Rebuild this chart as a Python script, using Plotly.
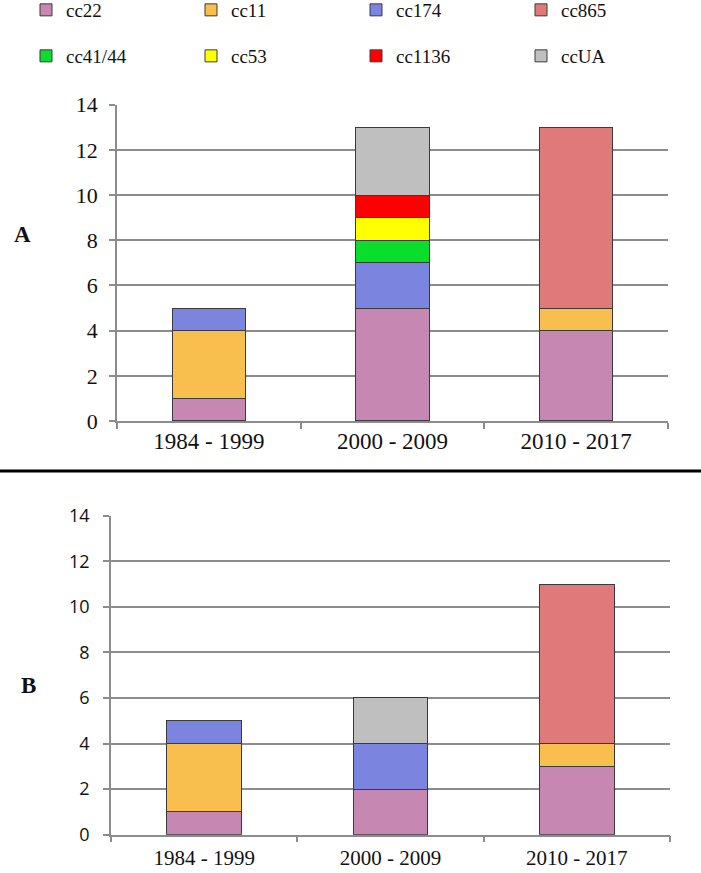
import plotly.graph_objects as go

categories = ["1984 - 1999", "2000 - 2009", "2010 - 2017"]
series_names = ["cc22", "cc11", "cc174", "cc41/44", "cc53", "cc1136", "ccUA", "cc865"]
legend_row1 = ["cc22", "cc11", "cc174", "cc865"]
legend_row2 = ["cc41/44", "cc53", "cc1136", "ccUA"]
y_ticks = [0, 2, 4, 6, 8, 10, 12, 14]

# Panel A values
a_cc22 = [1, 5, 4]
a_cc11 = [3, 0, 1]
a_cc174 = [1, 2, 0]
a_cc41_44 = [0, 1, 0]
a_cc53 = [0, 1, 0]
a_cc1136 = [0, 1, 0]
a_ccUA = [0, 3, 0]
a_cc865 = [0, 0, 8]

# Panel B values
b_cc22 = [1, 2, 3]
b_cc11 = [3, 0, 1]
b_cc174 = [1, 2, 0]
b_cc41_44 = [0, 0, 0]
b_cc53 = [0, 0, 0]
b_cc1136 = [0, 0, 0]
b_ccUA = [0, 2, 0]
b_cc865 = [0, 0, 7]

colors = {
    "cc22": "#c688b3",
    "cc11": "#f8be4e",
    "cc174": "#7b84de",
    "cc865": "#e07a7a",
    "cc41/44": "#0ade2c",
    "cc53": "#ffff00",
    "cc1136": "#ff0000",
    "ccUA": "#bfbfbf",
}

panel_a = dict(zip(series_names, [a_cc22, a_cc11, a_cc174, a_cc41_44, a_cc53, a_cc1136, a_ccUA, a_cc865]))
panel_b = dict(zip(series_names, [b_cc22, b_cc11, b_cc174, b_cc41_44, b_cc53, b_cc1136, b_ccUA, b_cc865]))

W, H = 701, 873
fig = go.Figure()

def nz(vals):
    return [v if v else None for v in vals]

for name in series_names:
    in_row1 = name in legend_row1
    rank = (legend_row1 + legend_row2).index(name)
    fig.add_trace(go.Bar(
        x=categories, y=nz(panel_a[name]), name=name,
        marker=dict(color=colors[name], line=dict(color="#3a3a3a", width=1)),
        xaxis="x", yaxis="y",
        legend="legend" if in_row1 else "legend2",
        legendrank=rank, showlegend=True, hoverinfo="skip",
    ))
for name in series_names:
    fig.add_trace(go.Bar(
        x=categories, y=nz(panel_b[name]), name=name,
        marker=dict(color=colors[name], line=dict(color="#3a3a3a", width=1)),
        xaxis="x2", yaxis="y2", showlegend=False, hoverinfo="skip",
    ))

grid = "#8c8c8c"
serif = "Liberation Serif, Times New Roman, serif"
common_x = dict(type="category", showline=True, linecolor=grid, linewidth=1.5,
                ticks="outside", tickson="boundaries", ticklen=6, tickcolor=grid,
                tickwidth=1.5, showgrid=False)
common_y = dict(range=[0, 14], tickvals=y_ticks, showline=True, linecolor=grid,
                linewidth=1.5, ticks="outside", ticklen=6, tickcolor=grid, tickwidth=1.5,
                showgrid=True, gridcolor=grid, gridwidth=1.5, zeroline=False)

fig.update_layout(
    width=W, height=H,
    margin=dict(l=0, r=0, t=0, b=0, autoexpand=False),
    paper_bgcolor="white", plot_bgcolor="white",
    barmode="stack", bargap=0.6,
    showlegend=True,
    xaxis=dict(domain=[117 / W, 668 / W], anchor="y", ticklabelstandoff=-1,
               tickfont=dict(family=serif, size=23, color="#111"), **common_x),
    yaxis=dict(domain=[1 - 421 / H, 1 - 104.7 / H], anchor="x",
               tickfont=dict(family=serif, size=22, color="#111"), ticklabelstandoff=7, **common_y),
    xaxis2=dict(domain=[111 / W, 670 / W], anchor="y2", ticklabelstandoff=3,
                tickfont=dict(family=serif, size=21, color="#111"), **common_x),
    yaxis2=dict(domain=[1 - 834.7 / H, 1 - 515.7 / H], anchor="x2",
                tickfont=dict(family="Open Sans, Liberation Sans, sans-serif", size=18, color="#111"),
                ticklabelstandoff=10, **common_y),
    legend=dict(orientation="h", x=26 / W, y=1 + 9 / H, xanchor="left", yanchor="top",
                entrywidth=120, entrywidthmode="pixels", traceorder="normal",
                font=dict(family=serif, size=19, color="#111"), bgcolor="rgba(0,0,0,0)"),
    legend2=dict(orientation="h", x=26 / W, y=1 - 37 / H, xanchor="left", yanchor="top",
                 entrywidth=120, entrywidthmode="pixels", traceorder="normal",
                 font=dict(family=serif, size=19, color="#111"), bgcolor="rgba(0,0,0,0)"),
    shapes=[dict(type="line", xref="paper", yref="paper", x0=0, x1=1,
                 y0=1 - 471 / H, y1=1 - 471 / H, line=dict(color="#000", width=3))],
    annotations=[
        dict(text="<b>A</b>", x=22 / W, y=1 - 235 / H, xref="paper", yref="paper",
             xanchor="center", yanchor="middle",
             showarrow=False, font=dict(family=serif, size=23, color="#111")),
        dict(text="<b>B</b>", x=28 / W, y=1 - 685 / H, xref="paper", yref="paper",
             xanchor="center", yanchor="middle",
             showarrow=False, font=dict(family=serif, size=23, color="#111")),
    ],
)

fig.write_html("out.html", config={"displayModeBar": False},
               post_script="document.body.style.margin='0px';")
